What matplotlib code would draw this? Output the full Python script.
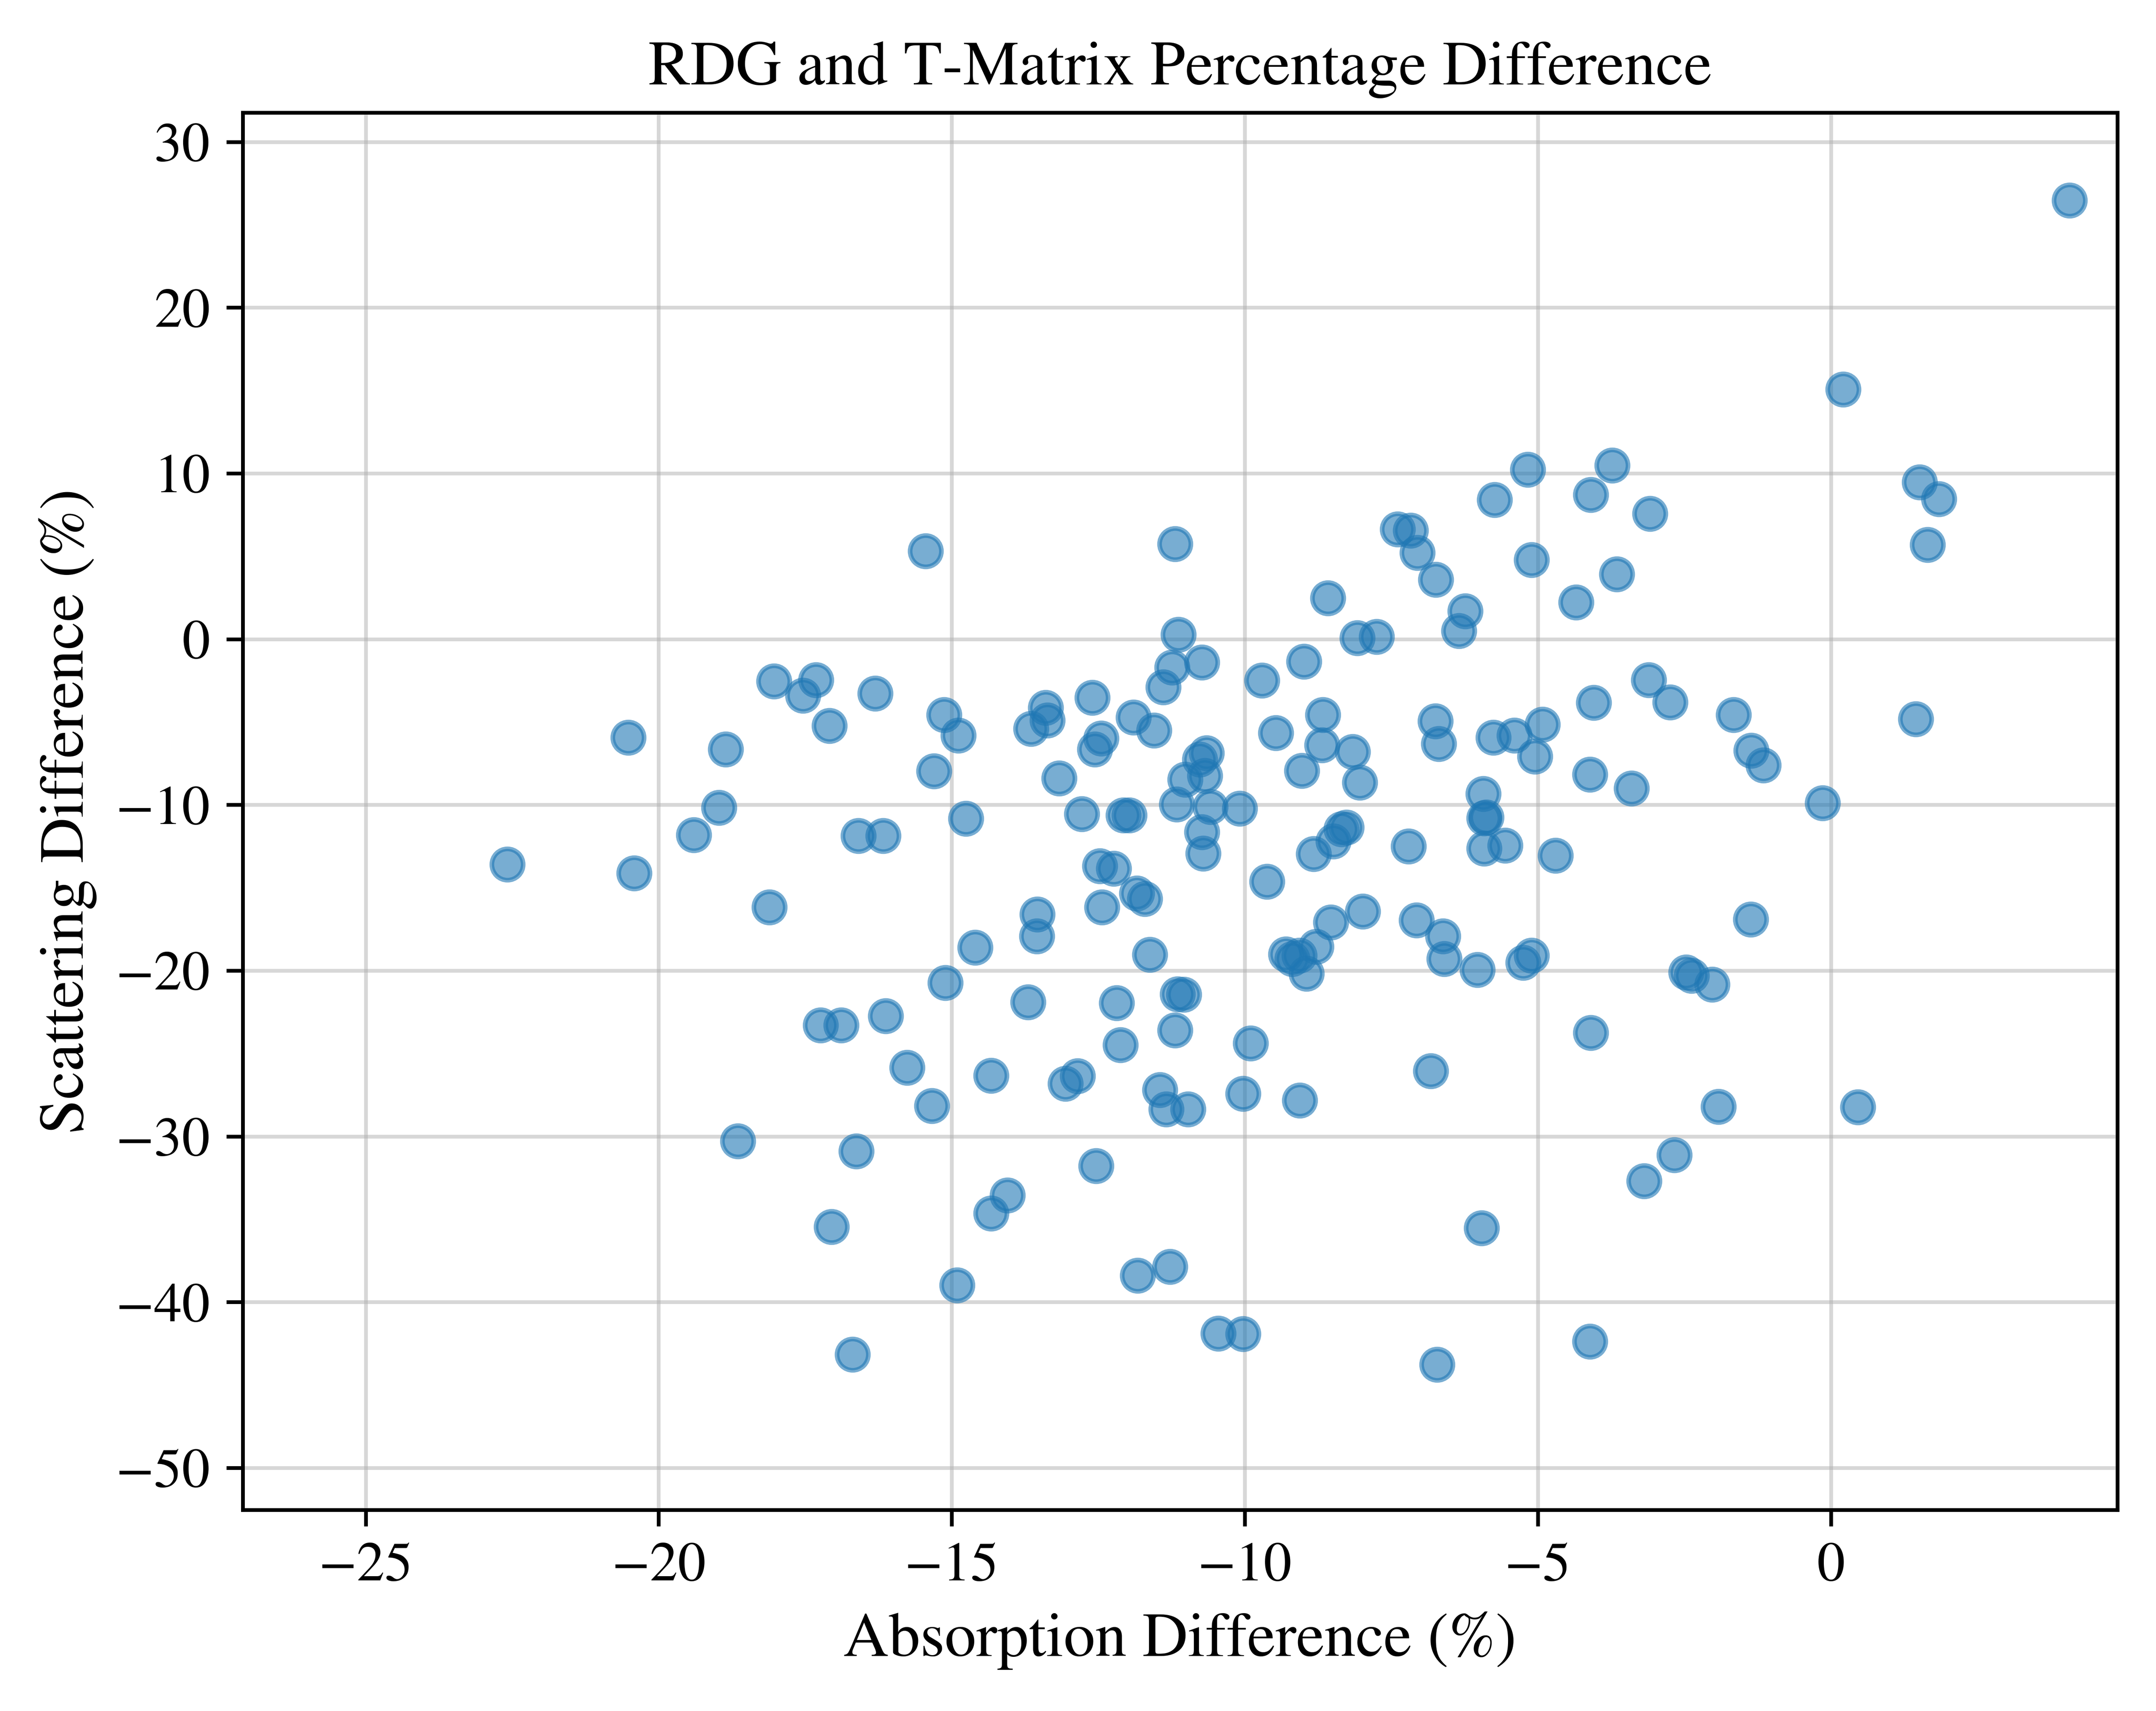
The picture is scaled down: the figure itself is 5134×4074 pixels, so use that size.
import numpy as np
import matplotlib
matplotlib.use("Agg")
import matplotlib.pyplot as plt

plt.rcParams['font.family'] = ['STIXGeneral', 'Liberation Serif', 'DejaVu Serif']
plt.rcParams['mathtext.fontset'] = 'stix'

# absorption / scattering percentage differences
absorption_diff = [
    -11.13, -11.24, -10.73, -11.39, -9.71, -8.99, -8.08, -7.75, -13.40, -13.37,
    -13.65, -12.60, -11.90, -11.55, -12.45, -12.56, -13.17, -10.65, -10.77, -10.68,
    -11.02, -9.47, -8.67, -8.68, -8.16, -9.03, -8.04, -11.16, -10.59, -10.09,
    -12.78, -12.07, -11.97, -10.73, -10.71, -8.27, -8.35, -8.49, -8.83, -9.62,
    -12.47, -12.24, -11.84, -11.71, -12.44, -13.54, -13.55, -11.62, -8.53, -7.99,
    -8.78, -9.30, -9.19, -9.07, -8.95, -13.70, -12.19, -11.15, -11.04,
    -6.35, -3.11, -2.74, -4.05, -1.66, -1.36, -1.15, -6.75, -6.69, -5.76,
    -5.40, -4.92, -5.05, -4.11, -3.40, -5.93, -5.88, -5.92, -7.21, -5.92,
    -5.56, -4.70, -7.07, -6.62, -6.60, -6.03, -5.25, -5.11,
    -18.03, -17.32, -17.54, -16.31, -17.09, -18.86, -20.52, -15.13, -14.89, -15.30,
    -18.97, -19.40, -14.76, -16.59, -16.17, -20.42, -18.11, -14.60, -15.11,
    -5.17, -3.73, -5.74, -4.10, -3.09, -7.39, -7.17, -7.06, -6.74, -5.11,
    -3.65, -4.35, -6.24,
    4.07, 0.21, 1.51, 1.84, 1.65, 1.45, -0.14,
    -1.37, -2.47, -2.38, -2.03, -1.92, 0.46, -2.67, -3.19,
    -11.19, -12.12, -9.90, -13.06, -12.85, -11.45, -11.34, -10.97, -10.03, -9.06,
    -14.05, -12.54, -11.83, -11.28, -10.45, -10.03,
    -17.24, -16.89, -16.13, -15.76, -15.34, -14.33, -18.65, -16.63, -17.05, -14.33,
    -14.91, -16.69,
    -6.83, -4.10, -5.96, -6.72, -4.11,
    -22.58, -15.45, -11.19, -8.58,
]
scattering_diff = [
    0.26, -1.70, -1.41, -2.89, -2.50, -1.34, 0.07, 0.14, -4.13, -4.90,
    -5.41, -3.52, -4.71, -5.51, -5.99, -6.65, -8.39, -6.87, -7.26, -8.25,
    -8.47, -5.66, -4.57, -6.39, -6.79, -7.93, -8.64, -9.96, -10.11, -10.21,
    -10.55, -10.62, -10.62, -11.64, -12.93, -11.37, -11.45, -12.20, -12.95, -14.62,
    -13.70, -13.85, -15.35, -15.67, -16.17, -16.61, -17.92, -19.05, -17.09, -16.44,
    -18.55, -19.01, -19.30, -19.08, -20.17, -21.90, -21.95, -21.41, -21.44,
    0.50, -2.46, -3.81, -3.84, -4.57, -6.72, -7.60, -4.95, -6.31, -5.93,
    -5.80, -5.16, -7.08, -8.17, -9.00, -9.34, -10.76, -10.80, -12.51, -12.64,
    -12.44, -13.05, -16.97, -17.92, -19.30, -19.96, -19.52, -19.08,
    -2.55, -2.47, -3.40, -3.27, -5.24, -6.65, -5.93, -4.57, -5.80, -7.96,
    -10.17, -11.81, -10.84, -11.86, -11.88, -14.12, -16.17, -18.60, -20.73,
    10.23, 10.49, 8.41, 8.71, 7.58, 6.63, 6.56, 5.22, 3.58, 4.78,
    3.91, 2.23, 1.69,
    26.48, 15.06, 9.46, 8.45, 5.68, -4.82, -9.88,
    -16.92, -20.11, -20.30, -20.83, -28.22, -28.25, -31.12, -32.70,
    -23.59, -24.48, -24.38, -26.81, -26.36, -27.20, -28.37, -28.37, -27.42, -27.83,
    -33.57, -31.78, -38.40, -37.86, -41.89, -41.92,
    -23.30, -23.30, -22.74, -25.85, -28.15, -26.33, -30.30, -30.90, -35.46, -34.65,
    -38.98, -43.16,
    -26.07, -23.75, -35.54, -43.78, -42.37,
    -13.59, 5.31, 5.74, 2.48,
]

x = np.array(absorption_diff)
y = np.array(scattering_diff)

fig = plt.figure(figsize=(5134 / 800, 4074 / 800), dpi=800)
ax = fig.add_axes([0.1126, 0.1176, 0.9820 - 0.1126, 0.9343 - 0.1176])

ax.scatter(x, y, s=45, alpha=0.6, color='#1f77b4', zorder=3)
ax.grid(True, alpha=0.5, zorder=0)
ax.set_axisbelow(True)

# limits scaled from the data extremes
ax.set_xlim(x.min() * 1.2, x.max() * 1.2)
ax.set_ylim(y.min() * 1.2, y.max() * 1.2)

ax.set_xlabel("Absorption Difference (%)", fontsize=13.5)
ax.set_ylabel("Scattering Difference (%)", fontsize=13.5)
ax.set_title("RDG and T-Matrix Percentage Difference", fontsize=13.5)
ax.tick_params(labelsize=12)

fig.savefig("out.png", dpi=800)
